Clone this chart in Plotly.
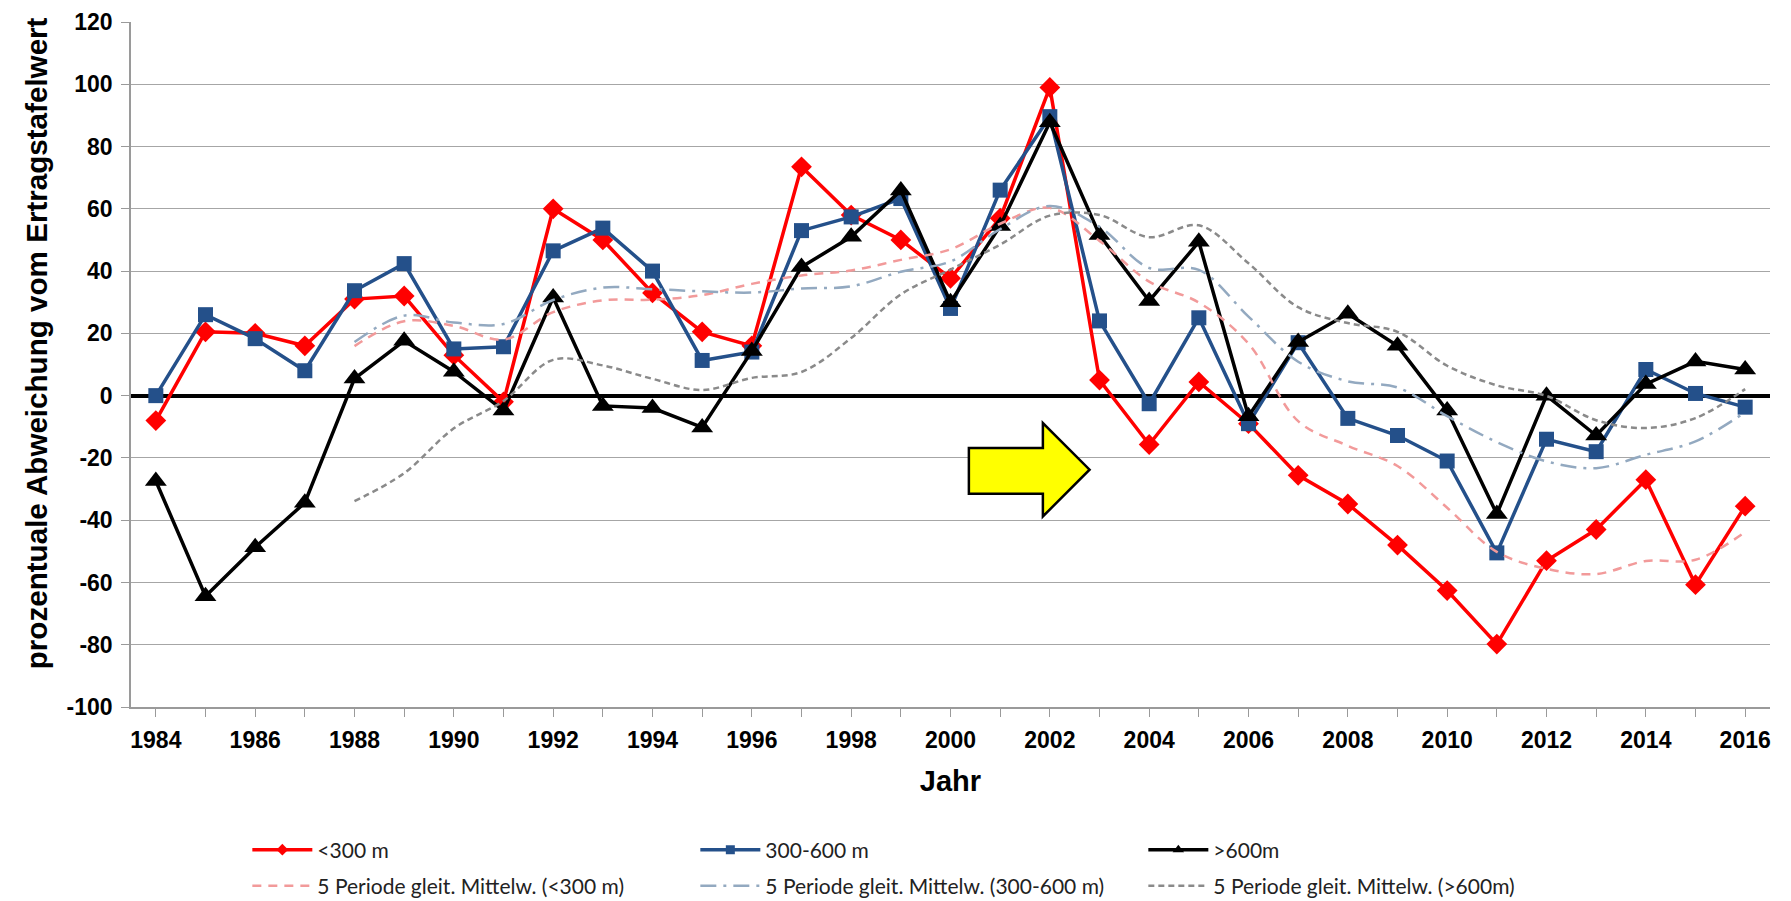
import plotly.graph_objects as go

years = list(range(1984, 2017))

lt300 = [-8, 20.5, 20, 16, 31, 32, 13, -2, 60, 50, 33, 20.5, 16, 73.5, 58, 50, 37.7,
         57, 99, 5, -15.7, 4.4, -9, -25.6, -34.8, -48, -62.6, -79.8, -53, -43, -27, -60.7, -35.5]
m300_600 = [0, 26, 18.3, 8, 33.7, 42.4, 15, 15.7, 46.5, 53.8, 40, 11.3, 14, 53, 57.4, 63.3, 28,
            66, 89.6, 24, -2.6, 25, -9, 17, -7.3, -12.8, -21, -50.5, -14, -18, 8.4, 0.7, -3.7]
gt600 = [-27.4, -64.4, -48.7, -34.4, 5.5, 17.6, 7.7, -4.8, 31.5, -3.3, -4, -10.2, 14.3, 41.3, 51,
         65.9, 30, 54.5, 87.8, 51.6, 30.4, 49.4, -6.6, 17.2, 26.3, 16, -4.8, -38, 0, -12.8, 3.7, 11, 8.4]

ma_years = list(range(1988, 2017))
ma_lt300 = [15.9, 23.9, 22.4, 18, 26.8, 30.6, 30.8, 32.3, 35.9, 38.6, 40.2, 43.6, 47, 55.2, 60.3,
            49.7, 36.6, 29.9, 16.7, -8.2, -16.1, -22.6, -36, -50.2, -55.6, -57.3, -53.1, -52.7, -43.8]
ma_300_600 = [17.2, 25.7, 23.5, 23, 30.7, 34.7, 34.2, 33.5, 33.1, 34.4, 35.1, 39.8, 43.1, 53.5, 60.9,
              54.2, 41, 40.4, 25.4, 10.9, 4.6, 2.6, -6.6, -14.9, -21.1, -23.3, -19, -14.7, -5.3]
ma_gt600 = [-33.9, -24.9, -10.5, -1.7, 11.5, 9.7, 5.4, 1.8, 5.7, 7.6, 18.5, 32.5, 40.5, 48.5, 57.8,
            58, 50.9, 54.7, 42.5, 28.4, 23.3, 20.5, 9.6, 3.3, -0.1, -7.9, -10.4, -7.2, 2.1]

y_tickvals = [-100, -80, -60, -40, -20, 0, 20, 40, 60, 80, 100, 120]
y_ticktext = ["-100", "-80", "-60", "-40", "-20", "0", "20", "40", "60", "80", "100", "120"]

names = ["<300 m", "300-600 m", ">600m",
         "5 Periode gleit. Mittelw. (<300 m)",
         "5 Periode gleit. Mittelw. (300-600 m)",
         "5 Periode gleit. Mittelw. (>600m)"]

RED = "#FF0000"
BLUE = "#24508A"
BLACK = "#000000"
MA_RED = "#F29A9A"
MA_BLUE = "#93A9C0"
MA_GRAY = "#8A8A8A"

fig = go.Figure()

# data series
fig.add_trace(go.Scatter(x=years, y=lt300, name=names[0], mode="lines+markers", showlegend=False,
                         line=dict(color=RED, width=3.5),
                         marker=dict(symbol="diamond", size=16, color=RED)))
fig.add_trace(go.Scatter(x=years, y=m300_600, name=names[1], mode="lines+markers", showlegend=False,
                         line=dict(color=BLUE, width=3.5),
                         marker=dict(symbol="square", size=15, color=BLUE)))
fig.add_trace(go.Scatter(x=years, y=gt600, name=names[2], mode="lines+markers", showlegend=False,
                         line=dict(color=BLACK, width=3.5),
                         marker=dict(symbol="triangle-up", size=19, color=BLACK)))
fig.add_trace(go.Scatter(x=ma_years, y=ma_lt300, name=names[3], mode="lines", showlegend=False,
                         line=dict(color=MA_RED, width=2.5, dash="9px,7px", shape="spline")))
fig.add_trace(go.Scatter(x=ma_years, y=ma_300_600, name=names[4], mode="lines", showlegend=False,
                         line=dict(color=MA_BLUE, width=2.5, dash="16px,7px,3px,7px", shape="spline")))
fig.add_trace(go.Scatter(x=ma_years, y=ma_gt600, name=names[5], mode="lines", showlegend=False,
                         line=dict(color=MA_GRAY, width=2.5, dash="6px,4px", shape="spline")))

# legend entries (small legend markers as in the reference)
leg_specs = [
    (names[0], dict(color=RED, width=3.5), dict(symbol="diamond", size=9, color=RED), "legend"),
    (names[1], dict(color=BLUE, width=3.5), dict(symbol="square", size=9, color=BLUE), "legend"),
    (names[2], dict(color=BLACK, width=3.5), dict(symbol="triangle-up", size=10, color=BLACK), "legend"),
    (names[3], dict(color=MA_RED, width=2.5, dash="9px,7px"), None, "legend2"),
    (names[4], dict(color=MA_BLUE, width=2.5, dash="16px,7px,3px,7px"), None, "legend2"),
    (names[5], dict(color=MA_GRAY, width=2.5, dash="6px,4px"), None, "legend2"),
]
for nm, ln, mk, lg in leg_specs:
    fig.add_trace(go.Scatter(x=[None], y=[None], name=nm,
                             mode="lines+markers" if mk else "lines",
                             line=ln, marker=mk if mk else None, legend=lg, showlegend=True))

# yellow arrow annotation
ax0, ax1, ax2 = 2000.37, 2001.86, 2002.8
ay_bt, ay_bb, ay_ht, ay_hb, ay_tip = -16.8, -31.5, -8.8, -38.8, -23.8
path = (f"M {ax0},{ay_bt} L {ax1},{ay_bt} L {ax1},{ay_ht} L {ax2},{ay_tip} "
        f"L {ax1},{ay_hb} L {ax1},{ay_bb} L {ax0},{ay_bb} Z")
fig.add_shape(type="path", path=path, xref="x", yref="y",
              fillcolor="#FFFF00", line=dict(color="black", width=2.5), layer="above")

legend_common = dict(orientation="h", xref="container", yref="container",
                     x=0.1381, xanchor="left", yanchor="middle",
                     entrywidth=373, entrywidthmode="pixels", itemwidth=60,
                     bgcolor="rgba(0,0,0,0)",
                     font=dict(family="Lato, sans-serif", size=21, color="#222222"))

fig.update_layout(
    width=1791, height=901,
    paper_bgcolor="white", plot_bgcolor="white",
    margin=dict(l=131, r=21, t=22, b=194),
    font=dict(family="Liberation Sans, Arial, sans-serif", color="black"),
    showlegend=True,
    legend=dict(y=1 - 850 / 901, **legend_common),
    legend2=dict(y=1 - 886 / 901, **legend_common),
    annotations=[dict(text="<b>prozentuale Abweichung vom Ertragstafelwert</b>",
                      xref="paper", yref="paper", x=(36 - 131) / 1639, y=0.531,
                      xanchor="center", yanchor="middle", textangle=-90, showarrow=False,
                      font=dict(size=29.6, family="Liberation Sans, Arial", color="black"))],
)

fig.update_xaxes(range=[1983.5, 2016.5], dtick=2, tick0=1984, automargin=False,
                 showgrid=False, showline=True, linecolor="#9A9A9A", linewidth=1.5,
                 ticks="outside", ticklen=8, tickcolor="#9A9A9A", ticklabelstandoff=4,
                 minor=dict(dtick=1, tick0=1984, ticks="outside", ticklen=8, tickcolor="#9A9A9A"),
                 tickfont=dict(size=23, family="Liberation Sans, Arial", color="black", weight="bold"),
                 title=dict(text="<b>Jahr</b>", font=dict(size=29), standoff=18),
                 zeroline=False)
fig.update_yaxes(range=[-100, 120], tickvals=y_tickvals, ticktext=y_ticktext, automargin=False,
                 showgrid=True, gridcolor="#A6A6A6", gridwidth=1.2,
                 showline=True, linecolor="#9A9A9A", linewidth=1.5,
                 ticks="outside", ticklen=8, tickcolor="#9A9A9A", ticklabelstandoff=4,
                 tickfont=dict(size=23, family="Liberation Sans, Arial", color="black", weight="bold"),
                 zeroline=True, zerolinecolor="black", zerolinewidth=4)

fig.write_html("out.html", config={"displayModeBar": False},
               post_script="document.body.style.margin='0px';")
